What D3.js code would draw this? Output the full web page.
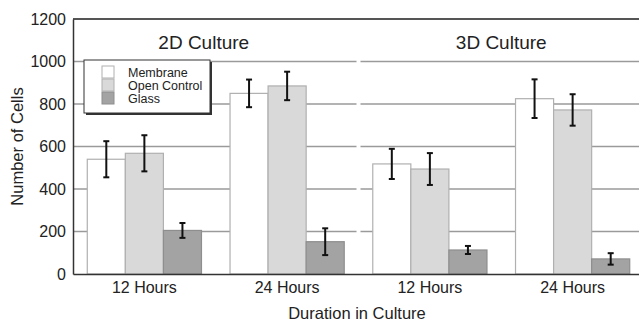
<!DOCTYPE html>
<html>
<head>
<meta charset="utf-8">
<script src="https://cdn.jsdelivr.net/npm/d3@7"></script>
<style>
  body { margin: 0; background: #fff; }
  text { font-family: "Liberation Sans", Arial, sans-serif; fill: #222; }
</style>
</head>
<body>
<svg id="chart"></svg>
<script>
// data
const groups = ['2D-12', '2D-24', '3D-12', '3D-24'];
const groupLabels = ['12 Hours', '24 Hours', '12 Hours', '24 Hours'];
const series = ['Membrane', 'Open Control', 'Glass'];
const membrane = [540, 850, 518, 825];
const membraneErr = [85, 65, 71, 91];
const openControl = [568, 885, 494, 772];
const openControlErr = [85, 67, 75, 74];
const glass = [205, 152, 113, 71];
const glassErr = [35, 63, 19, 27];
const panels = ['2D Culture', '3D Culture'];
const yTicks = [0, 200, 400, 600, 800, 1000, 1200];

const values = [membrane, openControl, glass];
const errors = [membraneErr, openControlErr, glassErr];
const fills = ['#ffffff', '#d9d9d9', '#a3a3a3'];
const strokes = ['#b0b0b0', '#b0b0b0', '#8e8e8e'];

const W = 639, H = 323;
const margin = { top: 19, right: -5, bottom: 49, left: 73 };
const width = W - margin.left - margin.right;
const height = H - margin.top - margin.bottom;

const svg = d3.select('#chart').attr('width', W).attr('height', H);
const chart = svg.append('g').attr('transform', `translate(${margin.left},${margin.top})`);

const x0 = d3.scaleBand().domain(groups).range([0, width]).paddingInner(0.2).paddingOuter(0.1);
const x1 = d3.scaleBand().domain(series).range([0, x0.bandwidth()]);
const y = d3.scaleLinear().domain([0, 1200]).range([height, 0]);

// panel split between the two culture types
const split = (x0('2D-24') + x0.bandwidth() + x0('3D-12')) / 2;

// gridlines, broken at the panel split
const grid = chart.append('g');
[[0, split - 2], [split + 2, width]].forEach(([a, b]) => {
  grid.selectAll(null)
    .data(yTicks.filter(t => t > 0 && t < 1200))
    .join('line')
    .attr('x1', a).attr('x2', b)
    .attr('y1', d => y(d)).attr('y2', d => y(d))
    .attr('stroke', '#9a9a9a').attr('stroke-width', 1.5);
});

// top frame
chart.append('line')
  .attr('x1', 0).attr('x2', width).attr('y1', y(1200)).attr('y2', y(1200))
  .attr('stroke', '#555').attr('stroke-width', 2);

// bars
const rows = [];
groups.forEach((g, gi) => series.forEach((s, si) => {
  rows.push({ g, s, si, v: values[si][gi], e: errors[si][gi] });
}));

chart.selectAll('.bar')
  .data(rows)
  .join('rect')
  .attr('class', 'bar')
  .attr('x', d => x0(d.g) + x1(d.s))
  .attr('y', d => y(d.v))
  .attr('width', x1.bandwidth())
  .attr('height', d => height - y(d.v))
  .attr('fill', d => fills[d.si])
  .attr('stroke', d => strokes[d.si])
  .attr('stroke-width', 1.2);

// error bars
const eb = chart.selectAll('.err')
  .data(rows)
  .join('g')
  .attr('class', 'err')
  .attr('transform', d => `translate(${x0(d.g) + x1(d.s) + x1.bandwidth() / 2},0)`);
eb.append('line')
  .attr('y1', d => y(d.v + d.e)).attr('y2', d => y(d.v - d.e))
  .attr('stroke', '#111').attr('stroke-width', 2);
eb.selectAll('.cap')
  .data(d => [d.v + d.e, d.v - d.e])
  .join('line')
  .attr('x1', -3).attr('x2', 3)
  .attr('y1', d => y(d)).attr('y2', d => y(d))
  .attr('stroke', '#111').attr('stroke-width', 2);

// axes
const yAxis = chart.append('g')
  .call(d3.axisLeft(y).tickValues(yTicks).tickFormat(d3.format('d')).tickSize(0).tickPadding(7));
yAxis.select('.domain').attr('stroke', '#333').attr('stroke-width', 1.5);
yAxis.selectAll('text').style('font-size', '16px').attr('fill', '#222');

const xAxis = chart.append('g')
  .attr('transform', `translate(0,${height})`)
  .call(d3.axisBottom(x0).tickSize(0).tickPadding(8).tickFormat((d, i) => groupLabels[i]));
xAxis.select('.domain').attr('stroke', '#333').attr('stroke-width', 1.5);
xAxis.selectAll('text').style('font-size', '16px').attr('fill', '#222');

// panel titles
const panelCenters = [
  (x0('2D-12') + x0('2D-24') + x0.bandwidth()) / 2 - 12,
  (x0('3D-12') + x0('3D-24') + x0.bandwidth()) / 2
];
chart.selectAll('.panel')
  .data(panels)
  .join('text')
  .attr('class', 'panel')
  .attr('x', (d, i) => panelCenters[i])
  .attr('y', 30)
  .attr('text-anchor', 'middle')
  .style('font-size', '19px')
  .text(d => d);

// axis titles
svg.append('text')
  .attr('transform', `translate(23,${margin.top + height / 2}) rotate(-90)`)
  .attr('text-anchor', 'middle')
  .style('font-size', '16.5px')
  .text('Number of Cells');
svg.append('text')
  .attr('x', 357).attr('y', 319)
  .attr('text-anchor', 'middle')
  .style('font-size', '16.5px')
  .text('Duration in Culture');

// legend
const legend = svg.append('g').attr('transform', 'translate(84,60)');
legend.append('rect')
  .attr('x', 2).attr('y', 2).attr('width', 126).attr('height', 53)
  .attr('fill', '#333');
legend.append('rect')
  .attr('width', 126).attr('height', 53)
  .attr('fill', '#fff').attr('stroke', '#333').attr('stroke-width', 1);
const items = legend.selectAll('.item')
  .data(series)
  .join('g')
  .attr('transform', (d, i) => `translate(18,${6 + i * 13})`);
items.append('rect')
  .attr('width', 12).attr('height', 12)
  .attr('fill', (d, i) => fills[i])
  .attr('stroke', (d, i) => strokes[i]);
items.append('text')
  .attr('x', 26).attr('y', 10.5)
  .style('font-size', '12.5px')
  .text(d => d);
</script>
</body>
</html>
